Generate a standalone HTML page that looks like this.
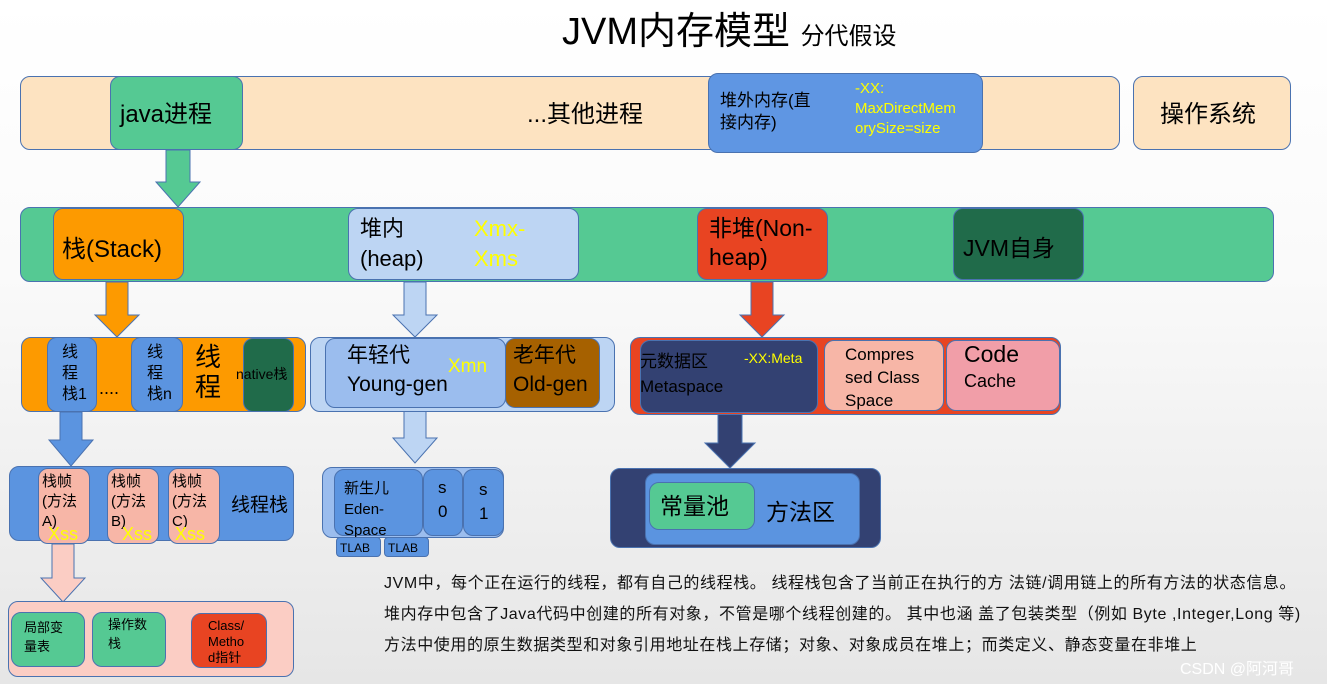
<!DOCTYPE html>
<html><head><meta charset="utf-8"><style>
body{margin:0;width:1327px;height:684px;overflow:hidden;background:linear-gradient(#ffffff,#fafafa 40%,#e6e6e6);font-family:"Liberation Sans","Noto Sans CJK SC",sans-serif;position:relative}
.b{position:absolute;box-sizing:border-box;border:1.5px solid #4a72b0;border-radius:10px}
.t{position:absolute;white-space:nowrap;color:#000}
.y{color:#ffff00}
svg{position:absolute;left:0;top:0}
</style></head><body>
<div class="t" style="left:562px;top:0px;font-size:38px">JVM内存模型 <span style="font-size:24px">分代假设</span></div>

<div class="b" style="left:20px;top:76px;width:1100px;height:74px;background:#fde3c1"></div>
<div class="b" style="left:110px;top:76px;width:133px;height:74px;background:#55c993"></div>
<div class="t" style="left:120px;top:94px;font-size:24px">java进程</div>
<div class="t" style="left:527px;top:94px;font-size:24px">...其他进程</div>
<div class="b" style="left:708px;top:73px;width:275px;height:80px;background:#5f96e3"></div>
<div class="t" style="left:720px;top:90px;font-size:17px;line-height:22px">堆外内存(直<br>接内存)</div>
<div class="t y" style="left:855px;top:79px;font-size:15px;line-height:20px">-XX:<br>MaxDirectMem<br>orySize=size</div>
<div class="b" style="left:1133px;top:76px;width:158px;height:74px;background:#fde3c1"></div>
<div class="t" style="left:1160px;top:94px;font-size:24px">操作系统</div>

<svg width="1327" height="684">
<polygon points="166,150 190,150 190,182 200,182 178,207 156,182 166,182" fill="#55c993" stroke="#4a72b0"/>
<polygon points="106,282 128,282 128,315 139,315 117,337 95,315 106,315" fill="#fd9a00" stroke="#4a72b0"/>
<polygon points="404,282 426,282 426,315 437,315 415,337 393,315 404,315" fill="#bdd5f3" stroke="#4a72b0"/>
<polygon points="751,282 773,282 773,315 784,315 762,337 740,315 751,315" fill="#e84422" stroke="#4a72b0"/>
<polygon points="60,412 82,412 82,440 93,440 71,466 49,440 60,440" fill="#5b94e0" stroke="#4a72b0"/>
<polygon points="404,408 426,408 426,438 437,438 415,463 393,438 404,438" fill="#bdd5f3" stroke="#4a72b0"/>
<polygon points="718,413 742,413 742,443 755,443 730,468 705,443 718,443" fill="#334172" stroke="#4a72b0"/>
<polygon points="52,544 74,544 74,578 85,578 63,602 41,578 52,578" fill="#fbcdc4" stroke="#4a72b0"/>
</svg>

<div class="b" style="left:20px;top:207px;width:1254px;height:75px;background:#55c993"></div>
<div class="b" style="left:53px;top:208px;width:131px;height:72px;background:#fd9a00"></div>
<div class="t" style="left:62px;top:229px;font-size:24px">栈(Stack)</div>
<div class="b" style="left:348px;top:208px;width:231px;height:72px;background:#bdd5f3"></div>
<div class="t" style="left:360px;top:214px;font-size:22px;line-height:30px">堆内<br>(heap)</div>
<div class="t y" style="left:474px;top:214px;font-size:22px;line-height:30px">Xmx-<br>Xms</div>
<div class="b" style="left:697px;top:208px;width:131px;height:72px;background:#e84422"></div>
<div class="t" style="left:709px;top:214px;font-size:23px;line-height:29px">非堆(Non-<br>heap)</div>
<div class="b" style="left:953px;top:208px;width:131px;height:72px;background:#206b4a"></div>
<div class="t" style="left:963px;top:229px;font-size:23px">JVM自身</div>

<div class="b" style="left:21px;top:337px;width:285px;height:75px;background:#fd9a00"></div>
<div class="b" style="left:47px;top:337px;width:50px;height:75px;background:#5b94e0"></div>
<div class="t" style="left:62px;top:342px;font-size:16px;line-height:21px">线<br>程<br>栈1</div>
<div class="t" style="left:99px;top:378px;font-size:18px">....</div>
<div class="b" style="left:131px;top:337px;width:52px;height:75px;background:#5b94e0"></div>
<div class="t" style="left:147px;top:342px;font-size:16px;line-height:21px">线<br>程<br>栈n</div>
<div class="t" style="left:195px;top:342px;font-size:26px;line-height:30px">线<br>程</div>
<div class="b" style="left:243px;top:338px;width:51px;height:74px;background:#206b4a"></div>
<div class="t" style="left:236px;top:364px;font-size:14px">native栈</div>

<div class="b" style="left:310px;top:337px;width:305px;height:75px;background:#bdd5f3"></div>
<div class="b" style="left:325px;top:338px;width:181px;height:70px;background:#9bbdee"></div>
<div class="t" style="left:347px;top:341px;font-size:21px;line-height:29px">年轻代<br>Young-gen</div>
<div class="t y" style="left:448px;top:356px;font-size:19px">Xmn</div>
<div class="b" style="left:505px;top:338px;width:95px;height:70px;background:#a66100"></div>
<div class="t" style="left:513px;top:341px;font-size:21px;line-height:29px">老年代<br>Old-gen</div>

<div class="b" style="left:630px;top:337px;width:431px;height:78px;background:#e84422"></div>
<div class="b" style="left:640px;top:340px;width:178px;height:73px;background:#334172"></div>
<div class="t" style="left:640px;top:349px;font-size:17px;line-height:25px">元数据区<br>Metaspace</div>
<div class="t y" style="left:744px;top:350px;font-size:14px">-XX:Meta</div>
<div class="b" style="left:824px;top:340px;width:120px;height:71px;background:#f7b6a7"></div>
<div class="t" style="left:845px;top:343px;font-size:17px;line-height:23px">Compres<br>sed Class<br>Space</div>
<div class="b" style="left:946px;top:340px;width:114px;height:71px;background:#f19ea8"></div>
<div class="t" style="left:964px;top:341px;font-size:23px">Code</div>
<div class="t" style="left:964px;top:371px;font-size:18px">Cache</div>

<div class="b" style="left:9px;top:466px;width:285px;height:75px;background:#5b94e0"></div>
<div class="b" style="left:38px;top:468px;width:52px;height:76px;background:#f7b6a7"></div>
<div class="b" style="left:107px;top:468px;width:52px;height:76px;background:#f7b6a7"></div>
<div class="b" style="left:168px;top:468px;width:52px;height:76px;background:#f7b6a7"></div>
<div class="t" style="left:42px;top:472px;font-size:15px;line-height:20px">栈帧<br>(方法<br>A)</div>
<div class="t" style="left:111px;top:472px;font-size:15px;line-height:20px">栈帧<br>(方法<br>B)</div>
<div class="t" style="left:172px;top:472px;font-size:15px;line-height:20px">栈帧<br>(方法<br>C)</div>
<div class="t y" style="left:48px;top:524px;font-size:18px">Xss</div>
<div class="t y" style="left:122px;top:524px;font-size:18px">Xss</div>
<div class="t y" style="left:175px;top:524px;font-size:18px">Xss</div>
<div class="t" style="left:231px;top:490px;font-size:19px">线程栈</div>

<div class="b" style="left:322px;top:467px;width:182px;height:71px;background:#9bbdee"></div>
<div class="b" style="left:334px;top:469px;width:89px;height:67px;background:#5b94e0"></div>
<div class="t" style="left:344px;top:478px;font-size:15px;line-height:21px">新生儿<br>Eden-<br>Space</div>
<div class="b" style="left:423px;top:469px;width:40px;height:67px;background:#5b94e0"></div>
<div class="t" style="left:438px;top:476px;font-size:17px;line-height:24px">s<br>0</div>
<div class="b" style="left:463px;top:469px;width:41px;height:67px;background:#5b94e0"></div>
<div class="t" style="left:479px;top:478px;font-size:17px;line-height:24px">s<br>1</div>
<div class="b" style="left:336px;top:537px;width:45px;height:20px;background:#5b94e0;border-radius:4px"></div>
<div class="b" style="left:384px;top:537px;width:45px;height:20px;background:#5b94e0;border-radius:4px"></div>
<div class="t" style="left:340px;top:541px;font-size:12px">TLAB</div>
<div class="t" style="left:388px;top:541px;font-size:12px">TLAB</div>

<div class="b" style="left:610px;top:468px;width:271px;height:80px;background:#334172"></div>
<div class="b" style="left:645px;top:473px;width:215px;height:72px;background:#5b94e0"></div>
<div class="b" style="left:649px;top:482px;width:106px;height:48px;background:#55c993"></div>
<div class="t" style="left:660px;top:487px;font-size:23px">常量池</div>
<div class="t" style="left:766px;top:493px;font-size:23px">方法区</div>

<div class="b" style="left:8px;top:601px;width:286px;height:76px;background:#fbcdc4"></div>
<div class="b" style="left:11px;top:612px;width:74px;height:55px;background:#55c993"></div>
<div class="t" style="left:24px;top:618px;font-size:13px;line-height:19px">局部变<br>量表</div>
<div class="b" style="left:92px;top:612px;width:74px;height:55px;background:#55c993"></div>
<div class="t" style="left:108px;top:615px;font-size:13px;line-height:19px">操作数<br>栈</div>
<div class="b" style="left:191px;top:613px;width:76px;height:55px;background:#e84422"></div>
<div class="t" style="left:208px;top:618px;font-size:13px;line-height:16px">Class/<br>Metho<br>d指针</div>

<div class="t" style="left:384px;top:569px;font-size:16px;letter-spacing:0.6px;color:#111">JVM中，每个正在运行的线程，都有自己的线程栈。 线程栈包含了当前正在执行的方 法链/调用链上的所有方法的状态信息。</div>
<div class="t" style="left:384px;top:600px;font-size:16px;letter-spacing:0.6px;color:#111">堆内存中包含了Java代码中创建的所有对象，不管是哪个线程创建的。 其中也涵 盖了包装类型（例如 Byte ,Integer,Long 等)</div>
<div class="t" style="left:384px;top:631px;font-size:16px;letter-spacing:0.6px;color:#111">方法中使用的原生数据类型和对象引用地址在栈上存储；对象、对象成员在堆上；而类定义、静态变量在非堆上</div>
<div class="t" style="left:1180px;top:655px;font-size:16px;color:#fff">CSDN @阿河哥</div>
</body></html>
